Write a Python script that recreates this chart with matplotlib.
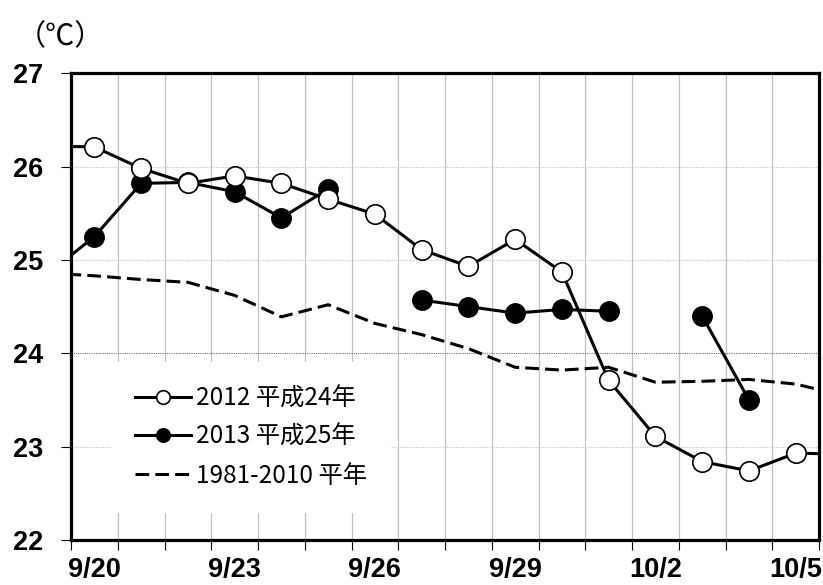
import numpy as np
import matplotlib
matplotlib.use("Agg")
import matplotlib.pyplot as plt

# categories (9/19 and 10/6 only show as stubs at the edges)
days = ['9/19', '9/20', '9/21', '9/22', '9/23', '9/24', '9/25', '9/26', '9/27',
        '9/28', '9/29', '9/30', '10/1', '10/2', '10/3', '10/4', '10/5', '10/6']
nan = np.nan
t2012 = [26.22, 26.21, 25.98, 25.82, 25.90, 25.82, 25.65, 25.49, 25.11,
         24.93, 25.22, 24.87, 23.71, 23.11, 22.84, 22.74, 22.93, 22.92]
t2013 = [24.85, 25.25, 25.82, 25.83, 25.73, 25.45, 25.76, nan, 24.57,
         24.50, 24.43, 24.47, 24.45, nan, 24.40, 23.50, nan, nan]
normal = [24.86, 24.83, 24.79, 24.76, 24.62, 24.39, 24.52, 24.32, 24.20,
          24.05, 23.85, 23.82, 23.85, 23.69, 23.70, 23.72, 23.67, 23.55]
label_2012 = '2012 平成24年'
label_2013 = '2013 平成25年'
label_normal = '1981-2010 平年'

x = np.arange(len(days)) - 1  # 9/20 -> 0

fig = plt.figure(figsize=(8.23, 5.85), dpi=100)
ax = fig.add_axes([0.0863, 0.0769, 0.9089, 0.798])

# grid
for b in np.arange(0.5, 15.5, 1):
    ax.axvline(b, color='#c0c0c0', lw=0.9, zorder=0)
for yv in [23, 25, 26]:
    ax.axhline(yv, color='#c8c8c8', lw=0.8, ls=(0, (1, 1)), zorder=0)
ax.axhline(24, color='#707070', lw=0.8, ls=(0, (1, 1)), zorder=0)

ax.plot(x, normal, color='black', lw=2.2, dashes=(4.5, 2.0), label=label_normal, zorder=2)
ax.plot(x, t2013, color='black', lw=2.2, marker='o', ms=14, mfc='black', mec='black',
        label=label_2013, zorder=3)
ax.plot(x, t2012, color='black', lw=2.2, marker='o', ms=14, mfc='white', mec='black',
        mew=1.2, label=label_2012, zorder=4)

ax.set_xlim(-0.5, 15.5)
ax.set_ylim(22, 27)
ax.set_yticks([22, 23, 24, 25, 26, 27])
ax.set_xticks(np.arange(0, 16, 3))
ax.set_xticklabels(days[1::3])
ax.set_xticks(np.arange(-0.5, 16, 1), minor=True)
ax.tick_params(axis='x', which='major', length=0, pad=12)
ax.tick_params(axis='x', which='minor', length=7, width=0.8, direction='out')
ax.tick_params(axis='y', length=7, width=0.8, direction='out', pad=13)
for lab in ax.get_xticklabels() + ax.get_yticklabels():
    lab.set_family('Liberation Sans')
    lab.set_fontweight('bold')
    lab.set_fontsize(19.5)
for s in ax.spines.values():
    s.set_linewidth(2.3)

h, l = ax.get_legend_handles_labels()
leg = ax.legend(h[::-1], l[::-1], loc='upper left', bbox_to_anchor=(0.055, 0.381),
                prop={'family': ['Noto Sans CJK JP', 'DejaVu Sans'], 'size': 17.5},
                frameon=True, fancybox=False, edgecolor='white', facecolor='white',
                framealpha=1, handlelength=2.3, handletextpad=0.2, labelspacing=0.52,
                borderpad=0.95, markerscale=0.7, borderaxespad=0)
leg.set_zorder(5)

fig.text(0.02, 0.962, '（℃）', fontsize=21, family=['Noto Sans CJK JP', 'DejaVu Sans'],
         va='top', ha='left')

fig.savefig('out.png', dpi=100)
